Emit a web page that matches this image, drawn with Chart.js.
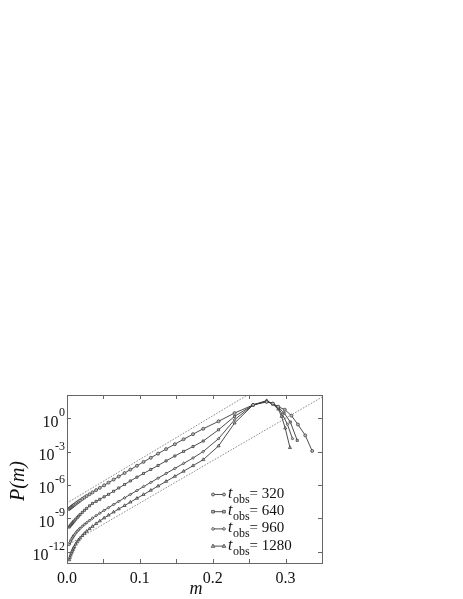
<!DOCTYPE html>
<html><head><meta charset="utf-8">
<script src="https://cdn.jsdelivr.net/npm/chart.js@4.4.1/dist/chart.umd.min.js"></script>
<style>html,body{margin:0;padding:0;background:#fff;}canvas{display:block;}</style>
</head><body>
<canvas id="c" width="463" height="599"></canvas>
<script>
// ---- data (m values and log10 P(m)) ----
const mShared = [0.003,0.004,0.005,0.006,0.007,0.008,0.009,0.010,0.012,0.014,0.016,0.018,0.021,0.024,0.027,0.031,0.035,0.040,0.045,0.051,0.057,0.064,0.071,0.079,0.087,0.096,0.105,0.115,0.125,0.136,0.148,0.160,0.173,0.187,0.208,0.230,0.2555,0.274,0.2825,0.290];
const mTail320  = [0.299,0.308,0.317,0.327,0.3365];
const mTail640  = [0.298,0.3065,0.316];
const mTail960  = [0.2955,0.3025,0.3095];
const mTail1280 = [0.2945,0.2995,0.306];

const logP320 = [-8.15,-8.09,-8.03,-7.98,-7.93,-7.88,-7.83,-7.78,-7.68,-7.58,-7.49,-7.39,-7.25,-7.12,-6.99,-6.83,-6.66,-6.46,-6.26,-6.03,-5.79,-5.52,-5.24,-4.93,-4.62,-4.28,-3.93,-3.56,-3.19,-2.78,-2.34,-1.90,-1.44,-0.96,-0.29,0.45,1.18,1.45,1.30,1.02, 0.75,0.22,-0.58,-1.55,-2.95];
const logP640 = [-9.78,-9.69,-9.61,-9.53,-9.45,-9.37,-9.29,-9.22,-9.07,-8.93,-8.79,-8.65,-8.46,-8.27,-8.10,-7.87,-7.65,-7.47,-7.29,-7.06,-6.84,-6.56,-6.27,-5.96,-5.64,-5.30,-4.97,-4.61,-4.25,-3.84,-3.40,-2.99,-2.55,-2.06,-1.05,0.15,1.18,1.50,1.30,0.98, 0.45,-0.35,-2.0];
const logP960 = [-11.35,-11.18,-11.03,-10.90,-10.78,-10.67,-10.57,-10.48,-10.31,-10.16,-10.02,-9.89,-9.71,-9.54,-9.38,-9.18,-8.98,-8.75,-8.53,-8.28,-8.03,-7.75,-7.47,-7.16,-6.85,-6.50,-6.15,-5.77,-5.39,-4.97,-4.52,-4.07,-3.58,-3.00,-1.85,-0.15,1.18,1.53,1.28,0.90, 0.35,-0.55,-1.85];
const logP1280 = [-12.72,-12.50,-12.30,-12.12,-11.96,-11.81,-11.67,-11.54,-11.31,-11.11,-10.93,-10.77,-10.55,-10.35,-10.16,-9.93,-9.72,-9.47,-9.23,-8.96,-8.71,-8.43,-8.15,-7.85,-7.54,-7.20,-6.86,-6.48,-6.10,-5.68,-5.23,-4.77,-4.27,-3.73,-2.50,-0.45,1.18,1.56,1.25,0.80, 0.15,-0.90,-2.65];

const fitUpperM = [0, 0.27],  fitUpperLogP = [-7.62, 2.94];
const fitLowerM = [0, 0.35],  fitLowerLogP = [-11.42, 1.88];

const seriesLabels = ['320','640','960','1280'];
const xTickValues = [0, 0.1, 0.2, 0.3];
const xTickLabels = ['0.0','0.1','0.2','0.3'];
const xMinorTicks = [0.05,0.1,0.15,0.2,0.25,0.3];
const yTickExponents = [0,-3,-6,-9,-12];

// ---- helpers ----
function pts(ms, ls){ return ms.map((m,i)=>({x:m, y:Math.pow(10, ls[i])})); }
const pointStyles = ['circle','rect','rectRot','triangle'];
const pointRadii = [1.5, 1.5, 1.4, 1.8];
const LINE = '#3a3a3a', MFILL = '#b8b8b8';
const SERIF = '"Liberation Serif", "DejaVu Serif", serif';

const seriesM = [mShared.concat(mTail320), mShared.concat(mTail640), mShared.concat(mTail960), mShared.concat(mTail1280)];
const seriesL = [logP320, logP640, logP960, logP1280];

const datasets = seriesL.map((L,k)=>({
  label: 't_obs = ' + seriesLabels[k],
  data: pts(seriesM[k], L),
  borderColor: LINE, borderWidth: 0.9,
  pointStyle: pointStyles[k], pointRadius: pointRadii[k],
  pointBackgroundColor: MFILL, pointBorderColor: '#333', pointBorderWidth: 0.7,
  showLine: true, tension: 0, order: 1
}));
datasets.push({label:'fit1', data: pts(fitUpperM, fitUpperLogP), borderColor:'#6a6a6a', borderWidth:0.8, borderDash:[1.5,1.5], pointRadius:0, showLine:true, order:2});
datasets.push({label:'fit2', data: pts(fitLowerM, fitLowerLogP), borderColor:'#6a6a6a', borderWidth:0.8, borderDash:[1.5,1.5], pointRadius:0, showLine:true, order:2});

function drawMarker(ctx, style, x, y, r){
  ctx.beginPath();
  if(style==='circle'){ ctx.arc(x,y,r,0,Math.PI*2); }
  else if(style==='rect'){ ctx.rect(x-r*0.9,y-r*0.9,r*1.8,r*1.8); }
  else if(style==='rectRot'){ ctx.moveTo(x,y-r*1.2); ctx.lineTo(x+r*1.2,y); ctx.lineTo(x,y+r*1.2); ctx.lineTo(x-r*1.2,y); ctx.closePath(); }
  else { ctx.moveTo(x,y-r*1.1); ctx.lineTo(x+r,y+r*0.7); ctx.lineTo(x-r,y+r*0.7); ctx.closePath(); }
  ctx.fillStyle = MFILL; ctx.fill();
  ctx.strokeStyle = '#333'; ctx.lineWidth = 0.7; ctx.stroke();
}

const decor = {
  id:'decor',
  afterDraw(chart){
    const ctx = chart.ctx, a = chart.chartArea;
    const xs = chart.scales.x, ys = chart.scales.y;
    ctx.save();
    // frame
    ctx.strokeStyle = '#666'; ctx.lineWidth = 1;
    ctx.strokeRect(Math.round(a.left)+0.5, Math.round(a.top)+0.5, Math.round(a.right-a.left), Math.round(a.bottom-a.top));
    // ticks
    ctx.beginPath();
    xMinorTicks.forEach(v=>{
      const px = Math.round(xs.getPixelForValue(v))+0.5;
      ctx.moveTo(px, a.bottom); ctx.lineTo(px, a.bottom-4);
      ctx.moveTo(px, a.top); ctx.lineTo(px, a.top+4);
    });
    yTickExponents.forEach(e=>{
      const py = Math.round(ys.getPixelForValue(Math.pow(10,e)))+0.5;
      ctx.moveTo(a.left, py); ctx.lineTo(a.left+4, py);
      ctx.moveTo(a.right, py); ctx.lineTo(a.right-4, py);
    });
    ctx.stroke();
    // x tick labels
    ctx.fillStyle = '#111';
    ctx.font = '16px ' + SERIF; ctx.textAlign = 'center'; ctx.textBaseline = 'alphabetic';
    xTickValues.forEach((v,i)=>{ ctx.fillText(xTickLabels[i], xs.getPixelForValue(v), 583); });
    // y tick labels 10^e
    ctx.textAlign = 'left';
    yTickExponents.forEach(e=>{
      const py = ys.getPixelForValue(Math.pow(10,e));
      const es = String(e);
      ctx.font = '12px ' + SERIF; const we = ctx.measureText(es).width;
      ctx.font = '16px ' + SERIF; const wb = ctx.measureText('10').width;
      const right = 65;
      ctx.fillText('10', right - we - wb - 0.5, py + 8.5);
      ctx.font = '12px ' + SERIF; ctx.fillText(es, right - we, py - 2);
    });
    // axis titles
    ctx.font = 'italic 18px ' + SERIF; ctx.textAlign = 'center';
    ctx.fillText('m', 196, 594);
    ctx.save(); ctx.translate(19, 481); ctx.rotate(-Math.PI/2);
    ctx.font = 'italic 20px ' + SERIF; ctx.textBaseline = 'middle';
    ctx.fillText('P(m)', 0, 0); ctx.restore();
    // legend
    const ly0 = 493, lstep = 17.2;
    seriesLabels.forEach((lab,k)=>{
      const y = ly0 + k*lstep;
      ctx.strokeStyle = LINE; ctx.lineWidth = 0.9;
      ctx.beginPath(); ctx.moveTo(213, y+1.5); ctx.lineTo(224, y+1.5); ctx.stroke();
      drawMarker(ctx, pointStyles[k], 213, y+1.5, pointRadii[k]);
      drawMarker(ctx, pointStyles[k], 224, y+1.5, pointRadii[k]);
      ctx.fillStyle = '#111'; ctx.textAlign = 'left'; ctx.textBaseline = 'alphabetic';
      let x = 228;
      ctx.font = 'italic 16px ' + SERIF; ctx.fillText('t', x, y+5); x += ctx.measureText('t').width + 0.5;
      ctx.font = '12px ' + SERIF; ctx.fillText('obs', x, y+10); x += ctx.measureText('obs').width;
      ctx.font = '15px ' + SERIF; ctx.fillText('= ' + lab, x, y+5);
    });
    ctx.restore();
  }
};

new Chart(document.getElementById('c'), {
  type: 'scatter',
  data: { datasets },
  options: {
    responsive: false, animation: false, devicePixelRatio: 1,
    layout: { padding: { top: 395, right: 141, left: 0, bottom: 0 } },
    plugins: { legend: { display: false }, tooltip: { enabled: false } },
    scales: {
      x: { type: 'linear', min: 0, max: 0.35,
           ticks: { display: false }, grid: { display: false }, border: { display: false },
           afterFit(s){ s.height = 36; } },
      y: { type: 'logarithmic', min: 1e-13, max: Math.pow(10, 2.07),
           ticks: { display: false }, grid: { display: false }, border: { display: false },
           afterFit(s){ s.width = 67; } }
    }
  },
  plugins: [decor]
});
</script>
</body></html>
